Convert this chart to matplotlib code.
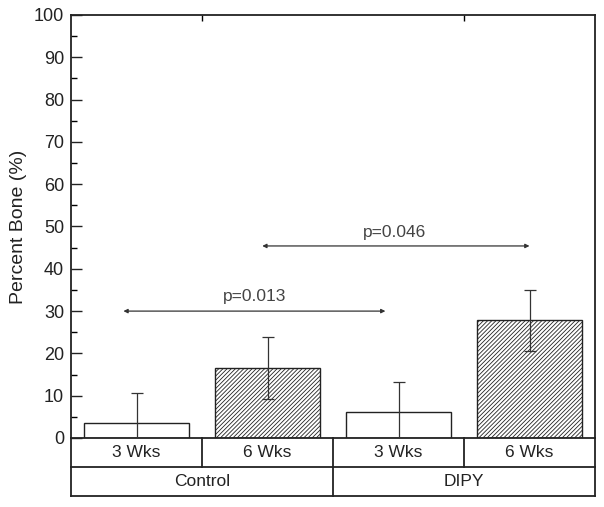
import matplotlib
matplotlib.use("Agg")
import matplotlib.pyplot as plt
import numpy as np

plt.rcParams['font.family'] = ['Liberation Sans', 'DejaVu Sans']
plt.rcParams['hatch.linewidth'] = 0.6
plt.rcParams['hatch.color'] = '#555555'

# Data
time_labels = ["3 Wks", "6 Wks", "3 Wks", "6 Wks"]
group_labels = ["Control", "DIPY"]
values = [3.5, 16.6, 6.2, 27.8]
errors = [7.1, 7.3, 7.1, 7.3]
hatches = ["", "////////", "", "////////"]
comparisons = [  # (x_start, x_end, y, label, label_x, label_y)
    (-0.1, 1.9, 30.0, "p=0.013", 0.9, 33.5),
    (0.96, 3.0, 45.4, "p=0.046", 1.97, 48.6),
]
ylabel = "Percent Bone (%)"

fig = plt.figure(figsize=(6.04, 5.07), dpi=100)
ax = fig.add_axes([71/604, 1-438/507, 524/604, 423/507])
x = np.arange(len(values))
dark = '#222222'
ax.bar(x, values, width=0.8, color='white', edgecolor=dark, linewidth=1.0,
       hatch=hatches, zorder=2)
ax.errorbar(x, values, yerr=errors, fmt='none', ecolor='#333333', elinewidth=0.9,
            capsize=4, capthick=0.9, zorder=3)

for xs, xe, yy, lab, lx, ly in comparisons:
    ax.annotate("", xy=(xs, yy), xytext=(xe, yy),
                arrowprops=dict(arrowstyle='<|-|>', color='#333333', lw=0.9,
                                mutation_scale=6, shrinkA=0, shrinkB=0))
    ax.text(lx, ly, lab, ha='center', va='center', fontsize=12.5, color='#444444')

ax.set_xlim(-0.5, len(values) - 0.5)
ax.set_ylim(0, 100)
ax.set_yticks(np.arange(0, 101, 10))
ax.set_yticks(np.arange(5, 100, 10), minor=True)
ax.tick_params(axis='y', which='major', direction='in', length=8, width=1,
               labelsize=13, colors=dark, right=False, pad=5)
ax.tick_params(axis='y', which='minor', direction='in', length=4, width=1, right=False)
ax.set_xticks([0.5, 2.5])
ax.tick_params(axis='x', which='major', direction='in', length=4, width=1,
               bottom=False, top=True, labelbottom=False)
ax.set_ylabel(ylabel, fontsize=14, color=dark, labelpad=5)
for s in ax.spines.values():
    s.set_linewidth(1.3)
    s.set_color(dark)

# Category table beneath the axis
tax = fig.add_axes([71/604, 1-496/507, 524/604, 58/507])
tax.set_xlim(-0.5, len(values) - 0.5)
tax.set_ylim(0, 2)
tax.axis('off')
lw = 1.3
tax.plot([-0.5, 3.5], [0, 0], color=dark, lw=lw, clip_on=False)
tax.plot([-0.5, 3.5], [1, 1], color=dark, lw=lw, clip_on=False)
tax.plot([-0.5, -0.5], [0, 2], color=dark, lw=lw, clip_on=False)
tax.plot([3.5, 3.5], [0, 2], color=dark, lw=lw, clip_on=False)
for b in [0.5, 1.5, 2.5]:
    tax.plot([b, b], [1, 2], color=dark, lw=lw, clip_on=False)
tax.plot([1.5, 1.5], [0, 1], color=dark, lw=lw, clip_on=False)
for i, t in enumerate(time_labels):
    tax.text(i, 1.5, t, ha='center', va='center', fontsize=12.5, color=dark)
for g, lab in enumerate(group_labels):
    tax.text(2*g + 0.5, 0.5, lab, ha='center', va='center', fontsize=12.5, color=dark)

fig.savefig("out.png", dpi=100)
